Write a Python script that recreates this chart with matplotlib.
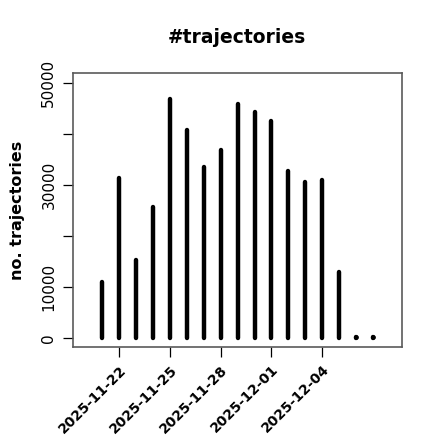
import matplotlib
matplotlib.use("Agg")
import matplotlib.pyplot as plt
import matplotlib.dates as mdates
import numpy as np
import datetime as dt

dates = ["2025-11-21", "2025-11-22", "2025-11-23", "2025-11-24", "2025-11-25",
         "2025-11-26", "2025-11-27", "2025-11-28", "2025-11-29", "2025-11-30",
         "2025-12-01", "2025-12-02", "2025-12-03", "2025-12-04", "2025-12-05",
         "2025-12-06", "2025-12-07"]
counts = [10950, 31370, 15270, 25680, 46880, 40790, 33530, 36870, 45900, 44330,
          42560, 32820, 30590, 31060, 12920, 100, 100]
xtick_dates = ["2025-11-22", "2025-11-25", "2025-11-28", "2025-12-01", "2025-12-04"]
yticks = [0, 10000, 20000, 30000, 40000, 50000]
ytick_labels = ["0", "10000", "", "30000", "", "50000"]

plt.rcParams['font.family'] = ['DejaVu Sans']
plt.rcParams['path.simplify'] = False

x = mdates.date2num([dt.date.fromisoformat(d) for d in dates])
xt = mdates.date2num([dt.date.fromisoformat(d) for d in xtick_dates])

fig = plt.figure(figsize=(4.4, 4.4), dpi=100)
ax = fig.add_axes([0.166, 0.2107, 0.748, 0.6227])

for xi, c in zip(x, counts):
    ax.plot([xi, xi], [0, c], color="black", linewidth=3.2,
            solid_capstyle="round")
    if c < 1000:
        ax.plot([xi], [c], marker="o", markersize=3.4, color="black",
                markeredgewidth=0)

ax.set_xlim(x[0] - 1.72, x[-1] + 1.72)
ax.set_ylim(-1830, 51900)

ax.set_xticks(xt)
ax.set_xticklabels(xtick_dates, rotation=45, ha="right", rotation_mode="anchor",
                   fontsize=10, fontweight="bold")
ax.set_yticks(yticks)
ax.set_yticklabels(ytick_labels, rotation=90, va="center", fontsize=11)
ax.tick_params(axis="both", direction="out", length=7, width=0.9, color="black")
ax.tick_params(axis="y", pad=5)
ax.tick_params(axis="x", pad=4)

for s in ax.spines.values():
    s.set_color("#5a5a5a")
    s.set_linewidth(1.2)

ax.set_ylabel("no. trajectories", fontsize=11.5, fontweight="bold", labelpad=12)
fig.text(0.538, 0.915, "#trajectories", ha="center", va="center",
         fontsize=13.5, fontweight="bold")

fig.savefig("out.png", dpi=100)
